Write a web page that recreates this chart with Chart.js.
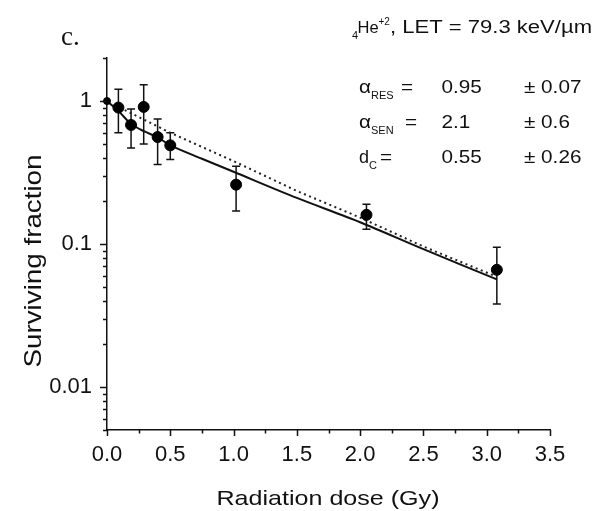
<!DOCTYPE html>
<html>
<head>
<meta charset="utf-8">
<script src="https://cdn.jsdelivr.net/npm/chart.js@4.4.1/dist/chart.umd.min.js"></script>
<style>
  html, body { margin: 0; padding: 0; background: #fff; }
  #wrap { width: 596px; height: 511px; position: relative; }
</style>
</head>
<body>
<div id="wrap"><canvas id="survivalChart"></canvas></div>
<script>
// measured points (dose in Gy, surviving fraction) with error bar ends
const doses    = [0, 0.09, 0.19, 0.29, 0.40, 0.50, 1.02, 2.05, 3.08];
const survival = [1.0, 0.90, 0.68, 0.91, 0.56, 0.49, 0.26, 0.16, 0.066];
const errHigh  = [null, 1.21, 0.88, 1.30, 0.75, 0.60, 0.35, 0.19, 0.095];
const errLow   = [null, 0.60, 0.47, 0.50, 0.36, 0.39, 0.17, 0.127, 0.038];

// solid fit curve
const solidDose = [0, 0.1, 0.19, 0.3, 0.4, 0.5, 0.75, 1.0, 1.5, 2.0, 2.5, 3.08];
const solidFrac = [1.0, 0.835, 0.69, 0.61, 0.557, 0.49, 0.395, 0.32, 0.21, 0.142, 0.092, 0.0566];

// dotted fit line
const dotDose = [0.14, 0.5, 1.0, 1.5, 2.0, 2.5, 3.08];
const dotFrac = [0.865, 0.60, 0.38, 0.235, 0.153, 0.096, 0.059];

const xTicks = [0, 0.5, 1.0, 1.5, 2.0, 2.5, 3.0, 3.5];
const yTicks = [0.01, 0.1, 1];
const yTickLabels = ["0.01", "0.1", "1"];

const FONT = "'Liberation Sans', Arial, Helvetica, sans-serif";

function toPts(xs, ys) {
    return xs.map((x, i) => ({ x: x, y: ys[i] }));
}

// text squeezed/stretched horizontally to fit a measured width
function fitText(ctx, text, x, y, size, width, align) {
    ctx.save();
    ctx.font = size + "px " + FONT;
    const w = ctx.measureText(text).width;
    const sx = width ? width / w : 1;
    ctx.translate(x, y);
    ctx.scale(sx, 1);
    ctx.textAlign = align || "left";
    ctx.textBaseline = "alphabetic";
    ctx.fillText(text, 0, 0);
    ctx.restore();
    return w * sx;
}

function plain(ctx, text, x, y, size, sx) {
    ctx.save();
    ctx.font = size + "px " + FONT;
    ctx.translate(x, y);
    ctx.scale(sx || 1, 1);
    ctx.textBaseline = "alphabetic";
    ctx.fillText(text, 0, 0);
    const w = ctx.measureText(text).width * (sx || 1);
    ctx.restore();
    return w;
}

const decorations = {
    id: "decorations",
    beforeDatasetsDraw(chart) {
        const ctx = chart.ctx;
        const xs = chart.scales.x, ys = chart.scales.y;
        ctx.save();
        ctx.strokeStyle = "#111";
        ctx.lineWidth = 1.5;
        doses.forEach((d, i) => {
            if (errHigh[i] == null) return;
            const px = xs.getPixelForValue(d);
            const top = ys.getPixelForValue(errHigh[i]);
            const bot = ys.getPixelForValue(errLow[i]);
            ctx.beginPath();
            ctx.moveTo(px, top); ctx.lineTo(px, bot);
            ctx.moveTo(px - 4, top); ctx.lineTo(px + 4, top);
            ctx.moveTo(px - 4, bot); ctx.lineTo(px + 4, bot);
            ctx.stroke();
        });
        ctx.restore();
    },
    afterDraw(chart) {
        const ctx = chart.ctx;
        const xs = chart.scales.x, ys = chart.scales.y;
        const area = chart.chartArea;
        ctx.save();
        ctx.strokeStyle = "#111";
        ctx.lineWidth = 1.5;
        ctx.beginPath();
        // x ticks: major every 0.5, minor at the quarters
        for (let v = 0; v <= 3.5001; v += 0.25) {
            const px = Math.round(xs.getPixelForValue(v)) + 0.5;
            const major = Math.abs(v / 0.5 - Math.round(v / 0.5)) < 1e-6;
            ctx.moveTo(px, area.bottom);
            ctx.lineTo(px, area.bottom + (major ? 6 : 3.5));
        }
        // y ticks on the log axis
        for (let e = -3; e <= 0; e++) {
            for (let k = 1; k <= 9; k++) {
                const v = k * Math.pow(10, e);
                if (v < 0.005 - 1e-9 || v > 2 + 1e-9) continue;
                const py = Math.round(ys.getPixelForValue(v)) + 0.5;
                ctx.moveTo(area.left, py);
                ctx.lineTo(area.left - (k === 1 ? 7 : 4), py);
            }
        }
        ctx.stroke();
        ctx.restore();

        ctx.save();
        ctx.fillStyle = "#111";
        // axis titles
        fitText(ctx, "Radiation dose (Gy)", 328, 505, 21, 223, "center");
        ctx.save();
        ctx.translate(41, 261);
        ctx.rotate(-Math.PI / 2);
        fitText(ctx, "Surviving fraction", 0, 0, 24, 213, "center");
        ctx.restore();

        // panel letter
        ctx.font = "27px 'Liberation Serif', 'Times New Roman', serif";
        ctx.textBaseline = "alphabetic";
        ctx.fillText("c.", 61, 45);

        // header: 4He+2, LET = 79.3 keV/um
        plain(ctx, "4", 352, 39, 11);
        plain(ctx, "He", 357.5, 33, 16.5);
        plain(ctx, "+2", 378.5, 25, 10);
        fitText(ctx, ", LET = 79.3 keV/\u00b5m", 390, 33, 17.5, 202);

        // fit parameters
        const rows = [
            { sym: "\u03b1", sub: "RES", eq: 401, val: "0.95", err: "\u00b1 0.07", y: 93 },
            { sym: "\u03b1", sub: "SEN", eq: 405, val: "2.1", err: "\u00b1 0.6", y: 128 },
            { sym: "d", sub: "C", eq: 380, val: "0.55", err: "\u00b1 0.26", y: 163 }
        ];
        rows.forEach(r => {
            const w = plain(ctx, r.sym, 359, r.y, 18, r.sym === "d" ? 1 : 1.15);
            plain(ctx, r.sub, 359 + w, r.y + 6, 10, 1.1);
            plain(ctx, "=", r.eq, r.y, 18, 1.15);
            plain(ctx, r.val, 441.5, r.y, 18, 1.15);
            plain(ctx, r.err, 524, r.y, 18, 1.15);
        });
        ctx.restore();
    }
};

new Chart(document.getElementById("survivalChart"), {
    type: "scatter",
    data: {
        datasets: [
            {
                label: "Measured",
                data: toPts(doses, survival),
                backgroundColor: "#000",
                borderColor: "#000",
                pointRadius: doses.map((d, i) => errHigh[i] == null ? 3.5 : 5.5),
                pointHoverRadius: 5.5,
                showLine: false,
                clip: false
            },
            {
                label: "Fit",
                data: toPts(solidDose, solidFrac),
                showLine: true,
                borderColor: "#111",
                borderWidth: 2,
                pointRadius: 0,
                tension: 0.3,
                clip: false
            },
            {
                label: "Sensitive",
                data: toPts(dotDose, dotFrac),
                showLine: true,
                borderColor: "#222",
                borderWidth: 2,
                borderDash: [2, 3.5],
                pointRadius: 0,
                clip: false
            }
        ]
    },
    options: {
        responsive: true,
        maintainAspectRatio: false,
        animation: false,
        layout: { padding: { left: 0, right: 46, top: 58, bottom: 0 } },
        plugins: {
            legend: { display: false },
            tooltip: { enabled: false }
        },
        scales: {
            x: {
                type: "linear",
                min: 0,
                max: 3.5,
                grid: { display: false, drawTicks: false },
                border: { display: true, color: "#111", width: 1.5 },
                afterBuildTicks: s => { s.ticks = xTicks.map(v => ({ value: v })); },
                afterFit: s => { s.height = 81; },
                ticks: {
                    padding: 12,
                    color: "#111",
                    font: { family: FONT, size: 22 },
                    maxRotation: 0,
                    callback: v => Number(v).toFixed(1)
                }
            },
            y: {
                type: "logarithmic",
                min: 0.005,
                max: 2,
                grid: { display: false, drawTicks: false },
                border: { display: true, color: "#111", width: 1.5 },
                afterBuildTicks: s => { s.ticks = yTicks.map(v => ({ value: v })); },
                afterFit: s => { s.width = 107; },
                ticks: {
                    padding: 15,
                    color: "#111",
                    font: { family: FONT, size: 22 },
                    callback: (v, i) => yTickLabels[i]
                }
            }
        }
    },
    plugins: [decorations]
});
</script>
</body>
</html>
